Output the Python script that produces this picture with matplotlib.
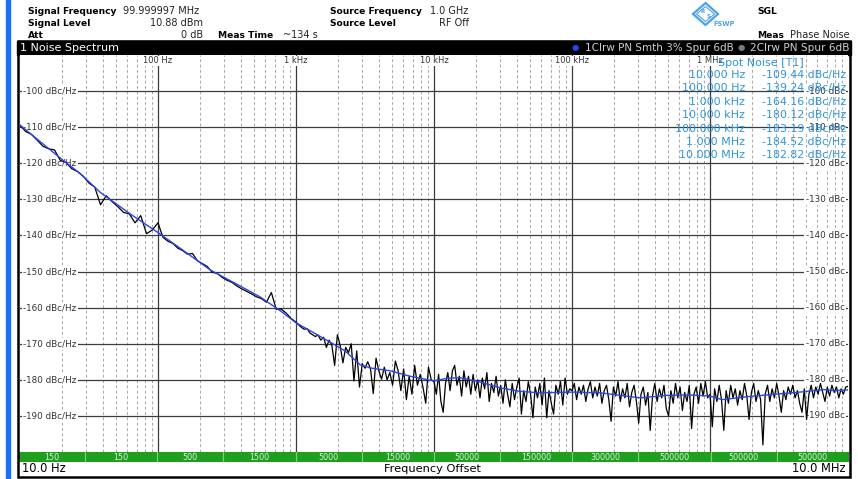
import numpy as np
import matplotlib
matplotlib.use("Agg")
import matplotlib.pyplot as plt
from matplotlib.patches import Rectangle, Polygon

# smoothed trace (blue): offset frequency in Hz, level in dBc/Hz
smooth_freq = [10, 14, 19.5, 27.2, 38, 62.7, 100, 157, 238, 393, 548, 765,
               1000, 1350, 1850, 2270, 2910, 3440, 4800, 6700,
               10000, 12400, 15400, 21500, 30000, 42000, 58600,
               100000, 160000, 311000, 488000, 716000,
               1e6, 1.22e6, 1.95e6, 2.96e6, 4.49e6, 6.59e6, 8.05e6, 1e7]
smooth_db = [-109.4, -114.0, -118.5, -122.8, -128.0, -134.0, -139.2, -144.5, -149.5, -154.0, -157.0, -160.8,
             -164.2, -167.0, -170.0, -172.0, -175.8, -176.7, -177.5, -179.0,
             -180.3, -179.6, -179.4, -180.6, -182.2, -183.2, -183.6,
             -183.4, -183.6, -185.0, -184.3, -184.2,
             -184.5, -185.5, -184.6, -184.0, -183.4, -182.7, -183.0, -182.8]

# raw trace (black), one list per decade, sweep points spread evenly inside the decade
raw_10hz = [-109.5, -111.2, -112.0, -113.6, -115.3, -116.0, -116.3, -119.2, -119.8, -121.5,
            -122.3, -123.6, -125.5, -126.6, -131.5, -129.0, -130.6, -132.0, -133.6, -134.0,
            -136.5, -134.5, -139.5, -138.5]
raw_100hz = [-136.5, -140.5, -141.6, -142.2, -143.5, -144.2, -145.2, -145.0, -147.0, -147.8,
             -148.6, -150.2, -150.5, -151.6, -152.4, -153.0, -154.0, -154.8, -155.5, -156.2,
             -157.0, -157.5, -158.5, -155.8, -160.5, -160.4, -161.5, -163.0]
raw_1khz = [-164.0, -164.8, -165.5, -166.0, -165.8, -167.0, -167.5, -168.0, -167.6, -169.0,
            -168.2, -171.0, -169.0, -170.5, -176.0, -167.5, -170.5, -175.3, -171.0, -172.5,
            -170.0, -180.3, -172.0, -182.0, -175.5, -176.8, -175.0, -177.0, -183.8, -174.0,
            -177.5, -179.8, -176.5, -180.0, -178.0, -181.5, -174.8, -177.5, -183.0, -177.0,
            -185.5, -179.0, -184.0, -176.0, -181.5, -178.5, -182.0, -186.5, -176.5, -180.0]
raw_10khz = [-180.5, -184.0, -178.5, -186.0, -189.0, -181.0, -178.0, -183.0, -177.5, -176.0,
             -181.5, -179.0, -184.5, -177.5, -182.0, -179.0, -184.0, -178.5, -183.0, -180.0,
             -185.0, -179.5, -182.5, -178.0, -186.0, -181.0, -183.5, -179.0, -184.5, -181.5,
             -186.5, -180.0, -184.0, -187.5, -181.0, -185.5, -182.0, -179.5, -189.5, -183.0,
             -186.0, -180.5, -184.0, -190.5, -182.0, -185.0, -181.0, -187.0, -179.5, -190.5,
             -183.0, -186.5, -189.5, -181.5, -184.0, -180.5, -187.0, -179.5, -184.0, -182.5]
raw_100khz = [-183.0, -181.0, -185.5, -182.0, -184.0, -181.5, -186.0, -182.5, -180.5, -185.0,
              -182.0, -184.5, -181.0, -186.5, -183.0, -181.5, -185.5, -191.5, -182.0, -184.5,
              -180.5, -186.0, -182.5, -185.0, -181.0, -187.5, -183.5, -181.5, -186.0, -192.0,
              -184.0, -182.0, -187.0, -183.5, -194.0, -184.5, -181.0, -186.0, -182.5, -185.0,
              -181.5, -188.0, -190.0, -183.0, -186.5, -181.0, -185.0, -182.0, -188.5, -183.5,
              -186.0, -181.5, -193.5, -184.0, -182.0, -186.5, -181.0, -184.5, -180.5, -185.0]
raw_1mhz = [-184.0, -193.0, -182.5, -186.0, -181.5, -185.5, -194.0, -183.0, -186.5, -181.5,
            -185.0, -182.5, -187.0, -183.0, -185.5, -181.0, -184.5, -191.0, -183.5, -181.0,
            -186.0, -183.0, -185.5, -198.0, -184.0, -181.5, -186.0, -182.5, -185.0, -181.0,
            -184.5, -189.0, -183.0, -185.5, -182.0, -184.0, -181.5, -185.0, -183.0, -186.5,
            -189.0, -182.5, -191.0, -184.0, -181.5, -185.0, -182.0, -184.0, -181.0, -183.5,
            -186.0, -182.0, -184.5, -181.5, -183.5, -182.0, -185.0, -182.5, -184.0, -182.0]
raw_end = -181.8

levels = [-100, -110, -120, -130, -140, -150, -160, -170, -180, -190]
decade_freq = [100, 1e3, 1e4, 1e5, 1e6]
decade_labels = ["100 Hz", "1 kHz", "10 kHz", "100 kHz", "1 MHz"]

rbw_edges = [10, 30, 100, 300, 1e3, 3e3, 1e4, 3e4, 1e5, 3e5, 1e6, 3e6, 1e7]
rbw_labels = ["150", "150", "500", "1500", "5000", "15000", "50000", "150000",
              "300000", "500000", "500000", "500000"]

spot_freq = ["10.000 Hz", "100.000 Hz", "1.000 kHz", "10.000 kHz",
             "100.000 kHz", "1.000 MHz", "10.000 MHz"]
spot_db = [-109.44, -139.24, -164.16, -180.12, -183.19, -184.52, -182.82]

# build the raw trace
raw_f = []
raw_v = []
for k, part in enumerate([raw_10hz, raw_100hz, raw_1khz, raw_10khz, raw_100khz, raw_1mhz]):
    raw_f += list(np.logspace(k + 1, k + 2, len(part), endpoint=False))
    raw_v += part
raw_f.append(1e7)
raw_v.append(raw_end)

W, H = 858, 479
fig = plt.figure(figsize=(W / 100, H / 100), dpi=100)
plt.rcParams['font.family'] = ['DejaVu Sans']


def box(x0, y0, x1, y1):
    return [x0 / W, 1 - y1 / H, (x1 - x0) / W, (y1 - y0) / H]


# screen background in pixel coordinates
scr = fig.add_axes([0, 0, 1, 1])
scr.set_xlim(0, W)
scr.set_ylim(H, 0)
scr.axis("off")

scr.add_patch(Rectangle((6, 0), 3.5, H, color="#1a6ff0"))

lab_fs = 6.6
val_fs = 7
scr.text(28, 11, "Signal Frequency", fontsize=lab_fs, fontweight="bold", va="center")
scr.text(123, 11, "99.999997 MHz", fontsize=val_fs, va="center", color="#222222")
scr.text(28, 23, "Signal Level", fontsize=lab_fs, fontweight="bold", va="center")
scr.text(203, 23, "10.88 dBm", fontsize=val_fs, va="center", ha="right", color="#222222")
scr.text(28, 35, "Att", fontsize=lab_fs, fontweight="bold", va="center")
scr.text(203, 35, "0 dB", fontsize=val_fs, va="center", ha="right", color="#222222")
scr.text(218, 35, "Meas Time", fontsize=lab_fs, fontweight="bold", va="center")
scr.text(283, 35, "~134 s", fontsize=val_fs, va="center", color="#222222")
scr.text(330, 11, "Source Frequency", fontsize=lab_fs, fontweight="bold", va="center")
scr.text(330, 23, "Source Level", fontsize=lab_fs, fontweight="bold", va="center")
scr.text(430, 11, "1.0 GHz", fontsize=val_fs, va="center", color="#222222")
scr.text(469, 23, "RF Off", fontsize=val_fs, va="center", ha="right", color="#222222")
scr.text(757, 11, "SGL", fontsize=lab_fs, fontweight="bold", va="center")
scr.text(757, 35, "Meas", fontsize=lab_fs, fontweight="bold", va="center")
scr.text(850, 35, "Phase Noise", fontsize=val_fs, va="center", ha="right", color="#222222")

# R&S logo
logo = "#4aa3e6"
scr.add_patch(Polygon([(705.5, 3), (718, 14), (705.5, 25), (693, 14)], closed=True,
                      facecolor="white", edgecolor=logo, lw=1.6))
scr.add_patch(Polygon([(705.5, 6.5), (714.5, 14), (705.5, 21.5), (696.5, 14)], closed=True,
                      facecolor="white", edgecolor=logo, lw=0.8))
scr.text(702.5, 11.5, "R", fontsize=4, color=logo, ha="center", va="center", fontweight="bold")
scr.text(708.5, 16.5, "S", fontsize=4, color=logo, ha="center", va="center", fontweight="bold")
scr.text(713, 24, "FSWP", fontsize=4.8, color=logo, va="center", fontweight="bold")

# title bar
scr.add_patch(Rectangle((17, 41), 834, 13.5, color="black"))
scr.text(20, 47.5, "1 Noise Spectrum", fontsize=8, color="white", va="center")
scr.text(849, 47.5, "2Clrw PN Spur 6dB", fontsize=7.6, color="#cfcfcf", va="center", ha="right")
scr.text(741, 47.5, "●", fontsize=6, color="#7a7a7a", va="center", ha="center")
scr.text(734, 47.5, "1Clrw PN Smth 3% Spur 6dB", fontsize=7.5, color="#cfcfcf", va="center", ha="right")
scr.text(575, 47.5, "●", fontsize=6, color="#2a45e6", va="center", ha="center")

# bottom strip
scr.text(22, 469, "10.0 Hz", fontsize=8.3, va="center")
scr.text(432, 469, "Frequency Offset", fontsize=8.2, va="center", ha="center")
scr.text(846, 469, "10.0 MHz", fontsize=8.3, va="center", ha="right")

# noise spectrum diagram
ax = fig.add_axes(box(20, 55, 848, 452))
ax.set_xscale("log")
ax.set_xlim(10, 1e7)
ax.set_ylim(-200, -90)
ax.set_xticks([])
ax.set_yticks([])
ax.minorticks_off()
for s in ax.spines.values():
    s.set_visible(False)

for dec in range(1, 7):
    for m in range(2, 10):
        ax.axvline(m * 10 ** dec, color="#a8a8a8", lw=0.7, ls=(0, (3, 2.5)), zorder=1)
for f in decade_freq:
    ax.axvline(f, color="#3c3c3c", lw=0.9, zorder=1)
for lv in levels:
    ax.axhline(lv, color="#3c3c3c", lw=0.9, zorder=1)

ytr = ax.get_yaxis_transform()
xtr = ax.get_xaxis_transform()
for lv in levels:
    ax.text(0.004, lv, "%d dBc/Hz" % lv, transform=ytr, fontsize=6.3, color="#333333",
            va="center", ha="left", zorder=2,
            bbox=dict(boxstyle="square,pad=0.15", fc="white", ec="none"))
    ax.text(0.949, lv, "%d dBc" % lv, transform=ytr, fontsize=6.3, color="#333333",
            va="center", ha="left", zorder=2,
            bbox=dict(boxstyle="square,pad=0.15", fc="white", ec="none"))
for f, lab in zip(decade_freq, decade_labels):
    ax.text(f, 0.985, lab, transform=xtr, fontsize=6, color="#333333",
            va="center", ha="center", zorder=2,
            bbox=dict(boxstyle="square,pad=0.1", fc="white", ec="none"))

ax.plot(raw_f, raw_v, color="black", lw=0.9, zorder=3)
ax.plot(smooth_freq, smooth_db, color="#2a45e6", lw=1.0, zorder=4)

# RBW bar
gb = fig.add_axes(box(19, 452, 849, 462))
gb.set_xscale("log")
gb.set_xlim(10, 1e7)
gb.set_ylim(0, 1)
gb.axis("off")
for i, lab in enumerate(rbw_labels):
    lo, hi = rbw_edges[i], rbw_edges[i + 1]
    gb.axvspan(lo, hi, color="#1ea01e", lw=0)
    gb.text(np.sqrt(lo * hi), 0.45, lab, fontsize=5.8, color="#d8f2d8", ha="center", va="center")
for e in rbw_edges[1:-1]:
    gb.axvline(e, color="#7fcf7f", lw=0.8)

# overlay: spot noise table and frame
top = fig.add_axes([0, 0, 1, 1], zorder=5)
top.set_xlim(0, W)
top.set_ylim(H, 0)
top.axis("off")
top.patch.set_alpha(0)

blue = "#2e96dc"
top.text(718, 63, "Spot Noise [T1]", fontsize=8, color=blue, va="center")
for i, (fl, v) in enumerate(zip(spot_freq, spot_db)):
    y = 75 + i * 13.4
    top.text(745, y, fl, fontsize=8, color=blue, va="center", ha="right")
    top.text(846, y, "%.2f dBc/Hz" % v, fontsize=7.9, color=blue, va="center", ha="right")

top.add_patch(Rectangle((18, 41), 832, 435.5, fill=False, ec="black", lw=1.8))

fig.savefig("out.png", dpi=100)
